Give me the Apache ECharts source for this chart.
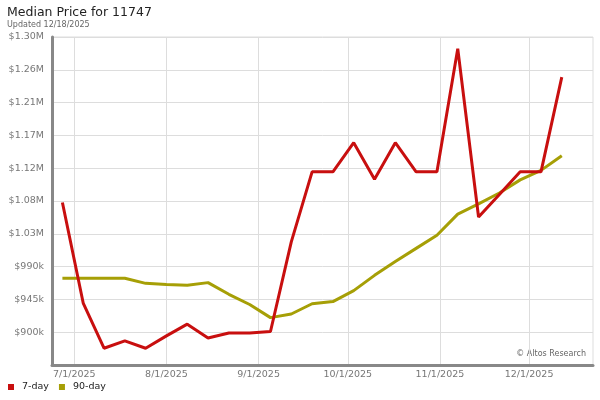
<!DOCTYPE html>
<html>
<head>
<meta charset="utf-8">
<script src="https://cdn.jsdelivr.net/npm/echarts@6/dist/echarts.min.js"></script>
<style>
html,body{margin:0;padding:0;background:#fff;}
#chart{width:600px;height:400px;}
</style>
</head>
<body>
<div id="chart"></div>
<script>
// Weekly observation dates
const weeks = ['6/27/2025','7/4/2025','7/11/2025','7/18/2025','7/25/2025','8/1/2025','8/8/2025','8/15/2025','8/22/2025','8/29/2025','9/5/2025','9/12/2025','9/19/2025','9/26/2025','10/3/2025','10/10/2025','10/17/2025','10/24/2025','10/31/2025','11/7/2025','11/14/2025','11/21/2025','11/28/2025','12/5/2025','12/12/2025'];
// 7-day median price
const sevenDay = [1078000, 940000, 878000, 888000, 878000, 895000, 911000, 892000, 899000, 899000, 901000, 1024000, 1120000, 1120000, 1160000, 1110000, 1160000, 1120000, 1120000, 1289000, 1058000, 1089000, 1120000, 1120000, 1250000];
// 90-day median price
const ninetyDay = [974000, 974000, 974000, 974000, 967000, 965500, 964500, 968000, 952000, 938000, 920000, 925000, 939000, 942000, 957000, 978000, 997000, 1015000, 1033000, 1062000, 1076000, 1091000, 1109000, 1122000, 1142000];
const axisStart = [2025, 5, 24];  // Jun 24 2025
const axisEnd = [2025, 11, 22];   // Dec 22 2025

// daily category axis
const days = [];
{
  const d = new Date(axisStart[0], axisStart[1], axisStart[2], 12);
  const e = new Date(axisEnd[0], axisEnd[1], axisEnd[2], 12);
  while (d <= e) {
    days.push((d.getMonth() + 1) + '/' + d.getDate() + '/' + d.getFullYear());
    d.setDate(d.getDate() + 1);
  }
}
const isMonthStart = (i, v) => v.split('/')[1] === '1';

const chart = echarts.init(document.getElementById('chart'), null, {renderer: 'canvas'});
const font = 'DejaVu Sans';
chart.setOption({
  animation: false,
  backgroundColor: '#fff',
  title: {
    text: 'Median Price for 11747',
    subtext: 'Updated 12/18/2025',
    left: 2, top: 1,
    itemGap: 2,
    textStyle: {fontFamily: font, fontSize: 12.5, fontWeight: 'normal', color: '#222'},
    subtextStyle: {fontFamily: font, fontSize: 8, color: '#666'}
  },
  legend: {
    left: 3, bottom: 3,
    icon: 'rect', itemWidth: 6, itemHeight: 6, itemGap: 10,
    textStyle: {fontFamily: font, fontSize: 9.5, color: '#222', padding: [0, 0, 0, 3]},
    data: ['7-day', '90-day']
  },
  grid: {
    left: 52, right: 7, top: 37, bottom: 35,
    show: true, borderColor: '#ddd', borderWidth: 1
  },
  xAxis: {
    type: 'category',
    data: days,
    boundaryGap: true,
    axisLine: {lineStyle: {color: '#888', width: 3}},
    axisTick: {show: false},
    axisLabel: {interval: isMonthStart, color: '#777', fontFamily: font, fontSize: 9.5, margin: 5},
    splitLine: {show: true, interval: isMonthStart, alignWithLabel: true, lineStyle: {color: '#ddd', width: 1}}
  },
  yAxis: {
    type: 'value',
    min: 855000, max: 1305000, interval: 45000,
    axisLine: {show: true, lineStyle: {color: '#888', width: 3}},
    axisTick: {show: false},
    axisLabel: {
      showMinLabel: false,
      color: '#777', fontFamily: font, fontSize: 9.5, margin: 8,
      formatter: v => v >= 1e6 ? '$' + (Math.floor(v / 1e4) / 100).toFixed(2) + 'M' : '$' + Math.round(v / 1000) + 'k'
    },
    splitLine: {lineStyle: {color: '#ddd', width: 1}}
  },
  graphic: [{
    type: 'text', right: 14, top: 350,
    style: {text: '© Altos Research', fill: '#666', font: '8px "DejaVu Sans"'}
  }],
  series: [
    {
      name: '7-day', type: 'line', symbol: 'none',
      itemStyle: {color: '#c80f0f'},
      lineStyle: {color: '#c80f0f', width: 3},
      data: weeks.map((w, i) => [w, sevenDay[i]]), z: 3
    },
    {
      name: '90-day', type: 'line', symbol: 'none',
      itemStyle: {color: '#a69f06'},
      lineStyle: {color: '#a69f06', width: 3},
      data: weeks.map((w, i) => [w, ninetyDay[i]]), z: 2
    }
  ]
});
</script>
</body>
</html>
